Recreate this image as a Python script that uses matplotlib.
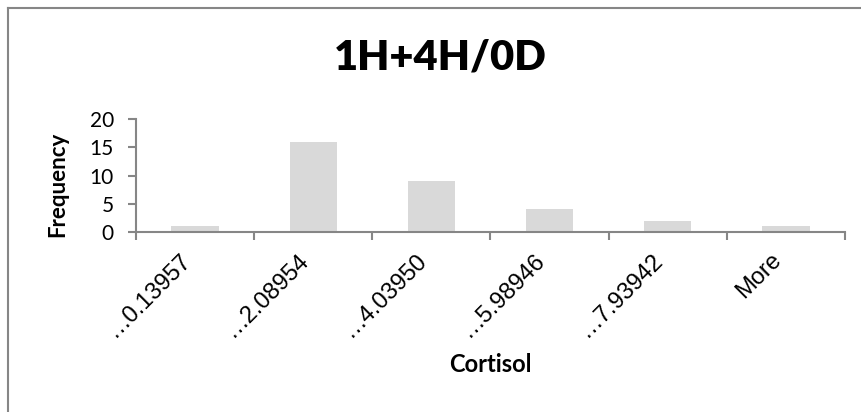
import matplotlib
matplotlib.use("Agg")
import matplotlib.pyplot as plt
from matplotlib.lines import Line2D

# histogram bins and counts
bins = ['…0.13957', '…2.08954', '…4.03950', '…5.98946', '…7.93942', 'More']
frequency = [1, 16, 9, 4, 2, 1]
y_ticks = [0, 5, 10, 15, 20]

title = '1H+4H/0D'
x_label = 'Cortisol'
y_label = 'Frequency'

axis_grey = '#868686'
bar_grey = '#D9D9D9'

fig = plt.figure(figsize=(8.61, 4.12), dpi=100)
ax = fig.add_axes([136 / 861, 1 - 232 / 412, 709 / 861, 113 / 412])

x = list(range(len(bins)))
ax.bar(x, frequency, width=0.4, color=bar_grey, zorder=2)

ax.set_xlim(-0.5, len(bins) - 0.5)
ax.set_ylim(0, 20)
ax.set_yticks(y_ticks)
ax.set_yticklabels([str(v) for v in y_ticks], fontfamily='Lato', fontsize=15)

# category labels at centres, tick marks at boundaries
ax.set_xticks(x)
ax.set_xticklabels(bins, rotation=45, ha='right', fontfamily='Liberation Sans', fontsize=17)
ax.set_xticks([i - 0.5 for i in range(len(bins) + 1)], minor=True)
ax.tick_params(axis='x', which='major', length=0, pad=12)
ax.tick_params(axis='x', which='minor', length=6, width=1.5, color=axis_grey, direction='out')
ax.tick_params(axis='y', length=6, width=1.5, color=axis_grey, direction='out', pad=10)

for side in ['top', 'right']:
    ax.spines[side].set_visible(False)
for side in ['left', 'bottom']:
    ax.spines[side].set_color(axis_grey)
    ax.spines[side].set_linewidth(1.5)

fig.text(440 / 861, 1 - 57 / 412, title, ha='center', va='center',
         fontfamily='Lato', fontweight='heavy', fontsize=30)
fig.text(490 / 861, 1 - 364 / 412, x_label, ha='center', va='center',
         fontfamily='Lato', fontweight='bold', fontsize=17)
fig.text(58 / 861, 1 - 184 / 412, y_label, ha='center', va='center', rotation=90,
         fontfamily='Lato', fontweight='bold', fontsize=16)

# chart border (left and top edges visible)
fig.add_artist(Line2D([7.5 / 861, 7.5 / 861], [0, 1 - 7.5 / 412], color=axis_grey, lw=1.5))
fig.add_artist(Line2D([7.5 / 861, 1], [1 - 7.5 / 412, 1 - 7.5 / 412], color=axis_grey, lw=1.5))

fig.savefig('out.png', dpi=100)
